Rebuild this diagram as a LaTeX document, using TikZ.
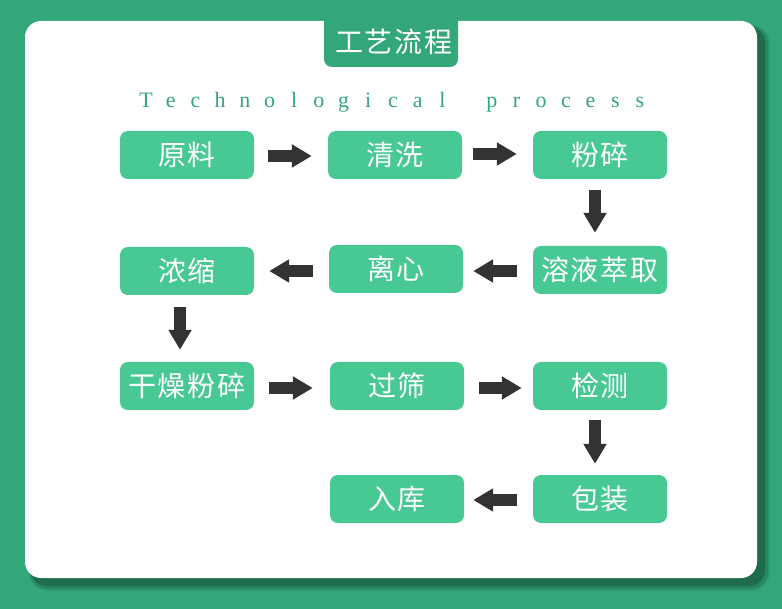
\documentclass[tikz,border=0pt]{standalone}
\usepackage{fontspec}
\setmainfont{Liberation Serif}
\newfontfamily\cjk[LetterSpace=7]{Noto Sans CJK SC}
\usetikzlibrary{arrows.meta}
\definecolor{bggreen}{HTML}{34A77A}
\definecolor{boxgreen}{HTML}{48C994}
\definecolor{shadowgreen}{HTML}{1F6A4B}
\definecolor{arrowgray}{HTML}{333333}
\begin{document}
\begin{tikzpicture}[x=1pt,y=-1pt,
  stepbox/.style={fill=boxgreen, rounded corners=8pt, minimum width=134pt, minimum height=48pt, inner sep=0pt, text=white, font=\cjk\fontsize{28}{28}\selectfont},
  blk/.style={draw=arrowgray, line width=12pt, -{Triangle[width=22pt,length=20pt]}},
  letter/.style={text=bggreen, font=\fontsize{22}{22}\selectfont, inner sep=0pt, anchor=base}
]
\useasboundingbox (0,0) rectangle (782,609);
\fill[bggreen] (0,0) rectangle (782,609);
% shadow
\fill[shadowgreen, opacity=0.2, rounded corners=19pt] (29,25) rectangle (770,591);
\fill[shadowgreen, opacity=0.4, rounded corners=17pt] (30,26) rectangle (768,589);
\fill[shadowgreen, opacity=0.9, rounded corners=16pt] (31,27) rectangle (765,586);
% panel
\fill[white, rounded corners=16pt] (25,21) rectangle (757,578);
% title tab
\fill[bggreen, rounded corners=8pt] (324,8) rectangle (458,67);
\node[text=white, font=\cjk\fontsize{28}{28}\selectfont, inner sep=0pt] (title) at (394,42) {工艺流程};
% subtitle
\foreach \ch [count=\i from 0] in {T,e,c,h,n,o,l,o,g,i,c,a,l,{},p,r,o,c,e,s,s}{
  \node[letter] (t\i) at (146+\i*24.7,108) {\ch};
}
% boxes
\node[stepbox] (a1) at (187,155) {原料};
\node[stepbox] (a2) at (395,155) {清洗};
\node[stepbox] (a3) at (600,155) {粉碎};
\node[stepbox] (b1) at (187,271) {浓缩};
\node[stepbox] (b2) at (396,269) {离心};
\node[stepbox] (b3) at (600,270) {溶液萃取};
\node[stepbox] (c1) at (187,386) {干燥粉碎};
\node[stepbox] (c2) at (397,386) {过筛};
\node[stepbox] (c3) at (600,386) {检测};
\node[stepbox] (d2) at (397,499) {入库};
\node[stepbox] (d3) at (600,499) {包装};
% arrows
\draw[blk] ([xshift=14pt,yshift=-1pt]a1.east) -- ([xshift=-16pt,yshift=-1pt]a2.west);
\draw[blk] ([xshift=11pt,yshift=1pt]a2.east) -- ([xshift=-16pt,yshift=1pt]a3.west);
\draw[blk] ([xshift=-5pt,yshift=-11pt]a3.south) -- ([xshift=-5pt,yshift=13pt]b3.north);
\draw[blk] ([xshift=-16pt,yshift=-1pt]b3.west) -- ([xshift=10pt,yshift=-2pt]b2.east);
\draw[blk] ([xshift=-16pt,yshift=-2pt]b2.west) -- ([xshift=15pt]b1.east);
\draw[blk] ([xshift=-7pt,yshift=-12pt]b1.south) -- ([xshift=-7pt,yshift=12pt]c1.north);
\draw[blk] ([xshift=15pt,yshift=-2pt]c1.east) -- ([xshift=-17pt,yshift=-2pt]c2.west);
\draw[blk] ([xshift=15pt,yshift=-2pt]c2.east) -- ([xshift=-11pt,yshift=-2pt]c3.west);
\draw[blk] ([xshift=-5pt,yshift=-10pt]c3.south) -- ([xshift=-5pt,yshift=11pt]d3.north);
\draw[blk] ([xshift=-16pt,yshift=-1pt]d3.west) -- ([xshift=9pt,yshift=-1pt]d2.east);
\end{tikzpicture}
\end{document}
